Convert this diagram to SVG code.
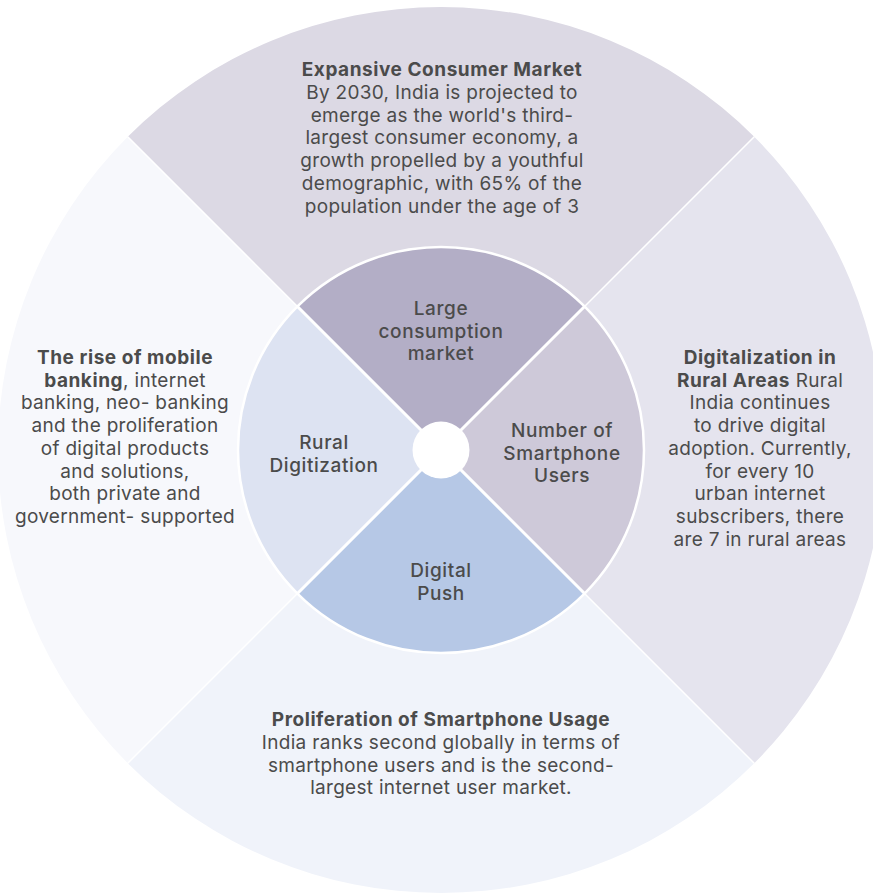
<svg xmlns="http://www.w3.org/2000/svg" width="873" height="895" viewBox="0 0 873 895">
<style>
.t{font-family:Inter,"Noto Sans","Liberation Sans",sans-serif;font-size:19px;letter-spacing:0.3px;fill:#4b4b4b;text-anchor:middle}
.b{font-weight:700;letter-spacing:0.55px}
.lab{font-family:Inter,"Noto Sans","Liberation Sans",sans-serif;font-size:19px;font-weight:500;letter-spacing:0.6px;fill:#4b4b4b;text-anchor:middle}
.sep{stroke:#ffffff;fill:none}
</style>
<rect width="873" height="895" fill="#ffffff"/>
<g id="outer-top">
<path d="M127.75,136.75 A443,443 0 0 1 754.25,136.75 L584.54,306.46 A203,203 0 0 0 297.46,306.46 Z" fill="#dcd9e4"/>
<text class="t" x="442" y="76"><tspan class="b" x="442">Expansive Consumer Market</tspan><tspan x="442" dy="22.8">By 2030, India is projected to</tspan><tspan x="442" dy="22.8">emerge as the world's third-</tspan><tspan x="442" dy="22.8">largest consumer economy, a</tspan><tspan x="442" dy="22.8">growth propelled by a youthful</tspan><tspan x="442" dy="22.8">demographic, with 65% of the</tspan><tspan x="442" dy="22.8">population under the age of 3</tspan></text>
</g>
<g id="outer-right">
<path d="M754.25,136.75 A443,443 0 0 1 754.25,763.25 L584.54,593.54 A203,203 0 0 0 584.54,306.46 Z" fill="#e5e4ee"/>
<text class="t" x="760" y="364"><tspan class="b" x="760">Digitalization in</tspan><tspan x="760" dy="22.7"><tspan class="b">Rural Areas</tspan> Rural</tspan><tspan x="760" dy="22.7">India continues</tspan><tspan x="760" dy="22.7">to drive digital</tspan><tspan x="760" dy="22.7">adoption. Currently,</tspan><tspan x="760" dy="22.7">for every 10</tspan><tspan x="760" dy="22.7">urban internet</tspan><tspan x="760" dy="22.7">subscribers, there</tspan><tspan x="760" dy="22.7">are 7 in rural areas</tspan></text>
</g>
<g id="outer-bottom">
<path d="M754.25,763.25 A443,443 0 0 1 127.75,763.25 L297.46,593.54 A203,203 0 0 0 584.54,593.54 Z" fill="#f0f3fa"/>
<text class="t" x="441" y="726"><tspan class="b" x="441">Proliferation of Smartphone Usage</tspan><tspan x="441" dy="22.8">India ranks second globally in terms of</tspan><tspan x="441" dy="22.8">smartphone users and is the second-</tspan><tspan x="441" dy="22.8">largest internet user market.</tspan></text>
</g>
<g id="outer-left">
<path d="M127.75,763.25 A443,443 0 0 1 127.75,136.75 L297.46,306.46 A203,203 0 0 0 297.46,593.54 Z" fill="#f7f8fc"/>
<text class="t" x="125" y="364"><tspan class="b" x="125">The rise of mobile</tspan><tspan x="125" dy="22.7"><tspan class="b">banking</tspan>, internet</tspan><tspan x="125" dy="22.7">banking, neo- banking</tspan><tspan x="125" dy="22.7">and the proliferation</tspan><tspan x="125" dy="22.7">of digital products</tspan><tspan x="125" dy="22.7">and solutions,</tspan><tspan x="125" dy="22.7">both private and</tspan><tspan x="125" dy="22.7">government- supported</tspan></text>
</g>
<g id="inner-top">
<path d="M441,450 L297.46,306.46 A203,203 0 0 1 584.54,306.46 Z" fill="#b3aec6"/>
<text class="lab" x="441" y="315"><tspan x="441">Large</tspan><tspan x="441" dy="22.7">consumption</tspan><tspan x="441" dy="22.7">market</tspan></text>
</g>
<g id="inner-right">
<path d="M441,450 L584.54,306.46 A203,203 0 0 1 584.54,593.54 Z" fill="#cec9d9"/>
<text class="lab" x="562" y="437"><tspan x="562">Number of</tspan><tspan x="562" dy="22.7">Smartphone</tspan><tspan x="562" dy="22.7">Users</tspan></text>
</g>
<g id="inner-bottom">
<path d="M441,450 L584.54,593.54 A203,203 0 0 1 297.46,593.54 Z" fill="#b6c8e6"/>
<text class="lab" x="441" y="577"><tspan x="441">Digital</tspan><tspan x="441" dy="22.7">Push</tspan></text>
</g>
<g id="inner-left">
<path d="M441,450 L297.46,593.54 A203,203 0 0 1 297.46,306.46 Z" fill="#dde3f2"/>
<text class="lab" x="324" y="449"><tspan x="324">Rural</tspan><tspan x="324" dy="22.7">Digitization</tspan></text>
</g>
<g id="connectors">
<path class="sep" stroke-width="1.5" d="M127.75,136.75 L297.46,306.46 M754.25,136.75 L584.54,306.46 M754.25,763.25 L584.54,593.54 M127.75,763.25 L297.46,593.54"/>
<path class="sep" stroke-width="3" d="M297.46,306.46 L584.54,593.54 M584.54,306.46 L297.46,593.54"/>
<circle class="sep" stroke-width="2.5" cx="441" cy="450" r="203"/>
</g>
<g id="hub">
<circle cx="441" cy="450" r="28.5" fill="#ffffff"/>
</g>
</svg>
